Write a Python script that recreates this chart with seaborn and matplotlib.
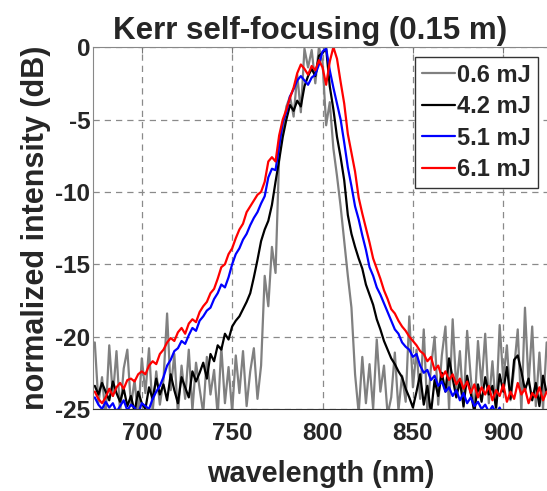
import numpy as np
import pandas as pd
import matplotlib
matplotlib.use("Agg")
import matplotlib.pyplot as plt
import seaborn as sns

# spectra sampled every 2 nm from 674 nm (dB, normalized)
start_nm = 674
step_nm = 2

gray_06 = [
    -20.4, -24.6, -22.8, -25.5, -20.6, -24.1, -21.0, -25.3, -22.2, -20.9,
    -24.8, -23.0, -25.6, -21.5, -23.9, -20.8, -25.2, -22.4, -24.7, -23.0,
    -18.4, -23.7, -21.2, -25.4, -22.0, -24.3, -20.9, -25.1, -21.8, -23.6,
    -25.3, -21.4, -24.0, -22.3, -25.5, -20.7, -24.6, -22.1, -25.2, -21.3,
    -23.9, -21.0, -24.8, -22.4, -20.8, -24.3, -22.0, -15.8, -17.9, -13.8,
    -15.6, -7.5, -5.8, -4.1, -3.4, -4.8, -1.9, -4.5, -0.1, -1.4,
    -0.2, -2.5, 0.0, -1.0, -5.4, -3.8, -7.0, -8.9, -11.0, -13.4,
    -15.8, -18.0, -22.6, -25.3, -21.4, -24.6, -21.9, -25.0, -20.2, -23.8,
    -22.0, -25.4, -24.2, -21.1, -25.1, -22.7, -24.5, -18.6, -23.5, -20.9,
    -24.3, -19.5, -25.2, -22.1, -20.0, -24.7, -21.3, -19.3, -25.0, -18.8,
    -23.6, -21.0, -24.9, -19.6, -22.8, -25.3, -20.3, -23.4, -19.8, -24.6,
    -21.7, -25.1, -19.2, -23.0, -20.6, -24.4, -22.2, -19.5, -25.2, -18.0,
    -23.3, -19.3, -24.8, -21.1, -25.0, -20.4,
]

black_42 = [
    -23.4, -24.0, -23.2, -23.8, -24.4, -23.1, -23.9, -24.5, -23.6, -24.8,
    -24.1, -25.2, -23.8, -24.6, -25.0, -23.5, -24.3, -22.9, -24.0, -23.3,
    -24.4, -22.6, -23.7, -24.6, -22.8, -23.5, -24.2, -22.4, -23.1, -22.5,
    -21.8, -22.9, -21.2, -21.7, -20.6, -20.9, -19.8, -20.2, -19.3, -18.9,
    -18.6, -18.1, -17.6, -17.0, -15.9, -14.7, -13.4, -12.6, -12.0, -10.9,
    -9.3, -7.8, -6.2, -5.0, -4.0, -4.4, -3.7, -4.1, -2.7, -2.0,
    -1.5, -2.0, -0.6, -0.4, -0.1, -2.7, -4.3, -6.2, -7.6, -9.2,
    -11.6, -12.9, -13.8, -14.6, -15.3, -16.4, -17.1, -17.8, -18.8, -19.5,
    -20.3, -20.9, -21.5, -21.9, -22.4, -22.8, -23.6, -24.2, -24.9, -23.8,
    -22.6, -24.7, -23.4, -25.3, -23.0, -24.1, -22.5, -23.8, -21.5, -22.9,
    -24.2, -23.1, -24.8, -22.7, -23.9, -25.2, -23.3, -24.5, -22.8, -24.0,
    -23.4, -24.9, -22.6, -23.8, -22.1, -24.3, -21.6, -21.3, -22.4, -23.7,
    -22.9, -24.4, -23.2, -24.8, -22.7, -23.9,
]

blue_51 = [
    -24.2, -24.7, -25.0, -24.5, -24.9, -24.6, -25.2, -24.8, -24.4, -25.1,
    -24.7, -24.9, -25.3, -24.6, -24.8, -25.0, -24.3, -23.8, -23.4, -22.8,
    -22.0, -21.6, -21.0, -20.8, -20.3, -20.5, -19.9, -19.4, -19.6, -18.9,
    -18.6, -18.2, -18.0, -17.4, -17.0, -16.4, -16.6, -15.9, -15.0, -14.3,
    -13.9, -13.3, -12.9, -12.3, -11.8, -11.4, -10.8, -10.3, -9.0, -8.4,
    -8.5, -6.8, -5.2, -4.5, -3.4, -2.9, -2.3, -2.0, -2.3, -2.6,
    -2.1, -1.9, -1.2, -0.3, -0.1, -1.6, -2.8, -3.9, -5.0, -6.6,
    -8.3, -9.6, -11.0, -11.9, -13.0, -14.0, -15.2, -15.8, -16.6, -17.1,
    -17.7, -18.3, -18.9, -19.5, -19.8, -20.4, -20.7, -20.9, -21.4, -21.2,
    -22.0, -22.5, -22.3, -23.0, -22.7, -23.4, -23.1, -23.8, -23.5, -24.1,
    -23.7, -24.4, -23.9, -24.6, -24.2, -24.8, -24.5, -25.0, -24.7, -25.2,
    -24.8, -25.3, -24.9, -25.5, -25.1, -25.6, -25.2, -25.4, -25.7, -25.3,
    -25.5, -25.8, -25.4, -25.6, -25.9, -25.5,
]

red_61 = [
    -23.8, -24.3, -24.6, -24.2, -23.6, -24.1, -23.5, -23.2, -23.6, -23.0,
    -22.9, -23.1, -22.6, -22.4, -22.6, -22.0, -21.7, -21.9, -21.2, -20.9,
    -20.4, -20.1, -20.3, -19.7, -19.4, -19.8, -19.1, -18.8, -19.0, -18.3,
    -17.9, -17.6, -17.0, -16.7, -16.0, -15.2, -15.0, -14.3, -13.9, -13.2,
    -12.6, -12.2, -11.4, -11.0, -10.6, -10.2, -10.0, -9.3, -7.9, -7.6,
    -7.9, -6.1, -5.0, -4.3, -3.5, -2.8, -1.8, -1.2, -1.5, -1.9,
    -1.3, -1.6, -0.9, -1.4, -2.6, -1.0, 0.0, -0.8, -2.4, -3.9,
    -6.0, -7.3, -8.6, -10.4, -11.5, -12.5, -13.5, -14.6, -15.3, -16.0,
    -16.8, -17.4, -18.1, -18.4, -18.9, -19.3, -19.6, -20.0, -20.3, -20.6,
    -21.0, -21.2, -21.7, -21.4, -22.3, -22.0, -22.8, -22.4, -23.0, -22.6,
    -23.3, -22.9, -23.6, -23.1, -23.9, -23.3, -24.2, -23.5, -24.0, -23.4,
    -24.4, -23.7, -24.1, -23.3, -24.5, -23.8, -24.3, -23.2, -24.0, -23.6,
    -24.6, -23.9, -24.2, -23.5, -24.4, -23.8,
]

labels = ["0.6 mJ", "4.2 mJ", "5.1 mJ", "6.1 mJ"]
colors = ["#808080", "#000000", "#0000ff", "#ff0000"]
xticks = [700, 750, 800, 850, 900]
yticks = [0, -5, -10, -15, -20, -25]

frames = []
for lab, vals in zip(labels, [gray_06, black_42, blue_51, red_61]):
    wl = start_nm + step_nm * np.arange(len(vals))
    frames.append(pd.DataFrame({"wavelength": wl, "dB": vals, "energy": lab}))
df = pd.concat(frames, ignore_index=True)

sns.set_style("white")
plt.rcParams["font.family"] = ["Liberation Sans", "DejaVu Sans"]
plt.rcParams["font.weight"] = "bold"
plt.rcParams["axes.unicode_minus"] = False

fig = plt.figure(figsize=(5.47, 4.91), dpi=100)
ax = fig.add_axes([0.170, 0.167, 0.834, 0.737])

sns.lineplot(data=df, x="wavelength", y="dB", hue="energy", hue_order=labels,
             palette=dict(zip(labels, colors)), estimator=None, linewidth=1.6,
             ax=ax)

ax.set_xlim(673, 925.4)
ax.set_ylim(-25, 0)
ax.set_xticks(xticks)
ax.set_yticks(yticks)
ax.grid(True, linestyle=(0, (5, 4)), color="#8a8a8a", linewidth=0.9)
ax.tick_params(direction="in", top=True, right=False, length=4,
               labelsize=17.5, color="#777777")
ax.tick_params(axis="x", pad=9)
ax.tick_params(axis="y", pad=2)
for lab in ax.get_xticklabels() + ax.get_yticklabels():
    lab.set_fontweight("bold")
for side in ["left", "top"]:
    ax.spines[side].set_color("#888888")
ax.spines["bottom"].set_color("#333333")
ax.spines["right"].set_visible(False)

ax.set_xlabel("wavelength (nm)", fontsize=20.8, fontweight="bold", labelpad=11)
ax.set_ylabel("normalized intensity (dB)", fontsize=22, fontweight="bold",
              labelpad=3)
ax.set_title("Kerr self-focusing (0.15 m)", fontsize=22.5, fontweight="bold",
             pad=6, x=0.476)

leg = ax.legend(loc="upper right", bbox_to_anchor=(0.976, 0.974),
                prop={"size": 17, "weight": "bold"}, handlelength=1.4,
                handletextpad=0.1, borderpad=0.3, labelspacing=0.36,
                fancybox=False, framealpha=1, borderaxespad=0)
leg.get_frame().set_edgecolor("#333333")
leg.get_frame().set_linewidth(1.0)
for line in leg.get_lines():
    line.set_linewidth(1.6)

fig.savefig("out.png", dpi=100)
